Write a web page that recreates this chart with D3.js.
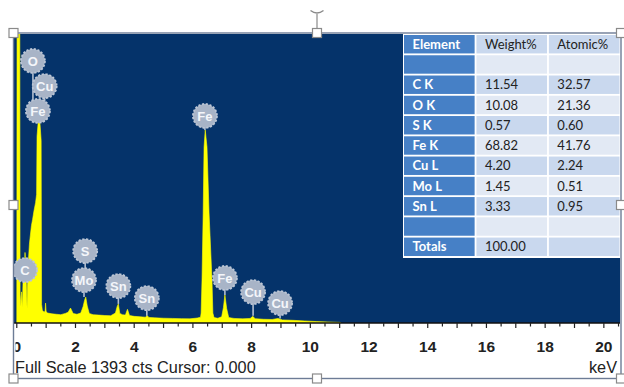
<!DOCTYPE html>
<html>
<head>
<meta charset="utf-8">
<script src="https://cdn.jsdelivr.net/npm/d3@7"></script>
<style>
  html, body { margin: 0; padding: 0; background: #fff; }
  svg { display: block; }
  .tick-label { font-family: 'Liberation Sans', Arial, sans-serif; font-size: 15.5px; font-weight: bold; fill: #222; }
  .foot { font-family: 'Liberation Sans', Arial, sans-serif; font-size: 16.3px; fill: #222; }
  .cell { font-family: Lato, 'Open Sans', sans-serif; font-size: 13px; fill: #222; }
  .cell-head { font-family: Lato, 'Open Sans', sans-serif; font-size: 13px; font-weight: bold; fill: #fff; }
  .marker text { font-family: 'Liberation Sans', Arial, sans-serif; font-size: 13px; font-weight: bold; fill: #f4f6fa; }
</style>
</head>
<body>
<div id="chart"></div>
<script>
// spectrum (keV, counts)
const energy = [0.00, 0.012, 0.02, 0.10, 0.112, 0.14, 0.16, 0.19, 0.215, 0.245, 0.28, 0.31, 0.335, 0.35, 0.37,
  0.40, 0.43, 0.46, 0.50, 0.54, 0.585, 0.64, 0.675, 0.69, 0.73, 0.79, 0.83, 0.845, 0.87, 0.93, 0.965, 0.98, 1.00,
  1.05, 1.20, 1.35, 1.50, 1.65, 1.75, 1.83, 1.92, 2.05, 2.18, 2.26, 2.31, 2.35, 2.40, 2.47, 2.60, 2.80, 3.00,
  3.20, 3.36, 3.42, 3.46, 3.51, 3.60, 3.70, 3.77, 3.84, 4.00, 4.20, 4.38, 4.44, 4.50, 4.70, 5.00, 5.30, 5.60,
  5.90, 6.15, 6.26, 6.28, 6.31, 6.35, 6.38, 6.42, 6.48, 6.55, 6.65, 6.68, 6.72, 6.85, 6.98, 7.04, 7.09, 7.15,
  7.22, 7.40, 7.70, 7.95, 8.04, 8.12, 8.40, 8.70, 8.90, 9.05, 9.40, 9.80, 10.20, 10.60, 11.00, 11.05];
const counts = [0, 1800, 1800, 1800, 140, 80, 150, 75, 210, 190, 340, 280, 130, 70, 200,
  310, 380, 420, 470, 500, 540, 580, 620, 900, 969, 962, 880, 90, 62, 52, 58, 96, 55,
  48, 44, 42, 40, 46, 52, 72, 46, 42, 48, 80, 110, 125, 82, 46, 40, 38, 36,
  35, 48, 80, 92, 46, 40, 38, 66, 36, 32, 30, 28, 36, 27, 25, 23, 22, 21,
  20, 24, 28, 48, 207, 530, 848, 930, 848, 530, 207, 48, 26, 23, 30, 75, 135, 70,
  26, 22, 20, 22, 32, 21, 18, 17, 22, 15, 13, 10, 7, 5, 3, 0];

const fullScale = 1393;
const tickLabels = [0, 2, 4, 6, 8, 10, 12, 14, 16, 18, 20];

// element markers (bubble centre and where its stem stops, both in counts)
const markerLabels = ['C', 'O', 'Cu', 'Fe', 'S', 'Mo', 'Sn', 'Sn', 'Fe', 'Fe', 'Cu', 'Cu'];
const markerKeV = [0.28, 0.55, 0.95, 0.72, 2.33, 2.29, 3.46, 4.43, 6.41, 7.09, 8.05, 8.97];
const markerCts = [255, 1263, 1142, 1022, 347, 207, 178, 120, 998, 217, 149, 96];
const stemCts = [255, 1022, 1022, 969, 207, 125, 92, 35, 930, 135, 35, 22];

// quantification table
const tableHeader = ['Element', 'Weight%', 'Atomic%'];
const elements = ['C K', 'O K', 'S K', 'Fe K', 'Cu L', 'Mo L', 'Sn L'];
const weightPct = ['11.54', '10.08', '0.57', '68.82', '4.20', '1.45', '3.33'];
const atomicPct = ['32.57', '21.36', '0.60', '41.76', '2.24', '0.51', '0.95'];
const totalsRow = ['Totals', '100.00', ''];

const width = 624, height = 387;
const plot = {left: 14, right: 620, top: 34, bottom: 323};

const svg = d3.select('#chart').append('svg')
  .attr('width', width)
  .attr('height', height);

svg.append('rect').attr('width', width).attr('height', height).attr('fill', '#fff');

const x = d3.scaleLinear().domain([-0.095, 20.55]).range([plot.left, plot.right]);
const y = d3.scaleLinear().domain([0, fullScale]).range([plot.bottom, plot.top]);

svg.append('clipPath').attr('id', 'plot-clip')
  .append('rect')
  .attr('x', plot.left).attr('y', plot.top)
  .attr('width', plot.right - plot.left).attr('height', plot.bottom - plot.top);

svg.append('clipPath').attr('id', 'frame-clip')
  .append('rect')
  .attr('x', plot.left + 1.5).attr('y', plot.top)
  .attr('width', plot.right - plot.left).attr('height', 360 - plot.top);

// background
svg.append('rect')
  .attr('x', plot.left).attr('y', plot.top)
  .attr('width', plot.right - plot.left).attr('height', plot.bottom - plot.top)
  .attr('fill', '#05336a');

drawSpectrum();
drawMarkers();
drawAxis();
drawTable();
drawFrame();

function drawSpectrum() {
  const spectrum = energy.map((e, i) => ({e, c: counts[i]}));
  const area = d3.area()
    .x(d => x(d.e))
    .y0(y(0))
    .y1(d => y(d.c));

  svg.append('g')
    .attr('clip-path', 'url(#plot-clip)')
    .append('path')
    .datum(spectrum)
    .attr('d', area)
    .attr('fill', '#ffff00')
    .attr('stroke', '#ffff00')
    .attr('stroke-width', 0.6);
}

function drawMarkers() {
  const r = 12;
  const markers = markerLabels.map((label, i) => ({
    label, kev: markerKeV[i], cts: markerCts[i], stem: stemCts[i]
  }));

  const g = svg.append('g').attr('class', 'marker').attr('clip-path', 'url(#plot-clip)');

  // stems first so bubbles sit on top
  g.selectAll('line')
    .data(markers)
    .enter().append('line')
      .attr('x1', d => x(d.kev)).attr('x2', d => x(d.kev))
      .attr('y1', d => y(d.cts))
      .attr('y2', d => y(d.stem))
      .attr('stroke', '#b3bfd0')
      .attr('stroke-width', 1.6);

  const bubble = g.selectAll('g.bubble')
    .data(markers)
    .enter().append('g')
      .attr('class', 'bubble')
      .attr('transform', d => `translate(${x(d.kev)},${y(d.cts)})`);

  bubble.append('circle')
    .attr('r', r)
    .attr('fill', '#a8b4c7')
    .attr('stroke', '#bcc6d5')
    .attr('stroke-width', 1.8)
    .attr('stroke-dasharray', '2.2,1.6');

  bubble.append('text')
    .attr('text-anchor', 'middle')
    .attr('dy', '0.36em')
    .text(d => d.label);
}

function drawAxis() {
  // axis line
  svg.append('line')
    .attr('x1', plot.left).attr('x2', plot.right)
    .attr('y1', plot.bottom).attr('y2', plot.bottom)
    .attr('stroke', '#111')
    .attr('stroke-width', 1.5);

  const tickVals = d3.range(0, 20.51, 0.5);
  const axisG = svg.append('g').attr('clip-path', 'url(#frame-clip)');

  axisG.selectAll('line.tick')
    .data(tickVals)
    .enter().append('line')
      .attr('class', 'tick')
      .attr('x1', d => x(d)).attr('x2', d => x(d))
      .attr('y1', plot.bottom)
      .attr('y2', d => plot.bottom + (d % 1 === 0 ? 5 : 3.5))
      .attr('stroke', '#222')
      .attr('stroke-width', 1.2);

  axisG.selectAll('text.tick-label')
    .data(tickLabels)
    .enter().append('text')
      .attr('class', 'tick-label')
      .attr('x', d => x(d))
      .attr('y', 351.5)
      .attr('text-anchor', 'middle')
      .text(d => d);

  svg.append('text')
    .attr('class', 'foot')
    .attr('x', 15)
    .attr('y', 372.5)
    .text('Full Scale ' + fullScale + ' cts Cursor: 0.000');

  svg.append('text')
    .attr('class', 'foot')
    .attr('x', 617)
    .attr('y', 373)
    .attr('text-anchor', 'end')
    .text('keV');
}

function drawTable() {
  const rows = [tableHeader, ['', '', '']]
    .concat(elements.map((el, i) => [el, weightPct[i], atomicPct[i]]))
    .concat([['', '', ''], totalsRow]);

  const rowScale = d3.scaleBand()
    .domain(d3.range(rows.length))
    .range([35, 256])
    .paddingInner(0.09);

  const colScale = d3.scaleBand()
    .domain(d3.range(3))
    .range([404, 619.5])
    .paddingInner(0.025);

  const bandColours = ['#c9d8ee', '#e2e9f4'];

  svg.append('rect')
    .attr('x', 403).attr('y', 34)
    .attr('width', 218).attr('height', 224)
    .attr('fill', '#fff');

  const rowG = svg.append('g').attr('class', 'table')
    .selectAll('g')
    .data(rows)
    .enter().append('g')
      .attr('transform', (d, i) => `translate(0,${rowScale(i)})`);

  rowG.selectAll('rect')
    .data((d, i) => d.map((v, j) => ({v, row: i, col: j})))
    .enter().append('rect')
      .attr('x', d => colScale(d.col))
      .attr('width', colScale.bandwidth())
      .attr('height', rowScale.bandwidth())
      .attr('fill', d => d.col === 0 ? '#4680c6' : bandColours[d.row % 2]);

  rowG.selectAll('text')
    .data((d, i) => d.map((v, j) => ({v, row: i, col: j})))
    .enter().append('text')
      .attr('class', d => d.col === 0 ? 'cell-head' : 'cell')
      .attr('x', d => colScale(d.col) + 8.5)
      .attr('y', rowScale.bandwidth() / 2)
      .attr('dy', '0.36em')
      .text(d => d.v);
}

function drawFrame() {
  svg.append('rect')
    .attr('x', 13.5).attr('y', 33)
    .attr('width', 607.5).attr('height', 345.5)
    .attr('fill', 'none')
    .attr('stroke', '#6d7c96')
    .attr('stroke-width', 1.4);

  // selection handles
  const hx = [13.5, 317, 621];
  const hy = [33, 205, 378.5];
  const handles = [];
  hx.forEach((a, i) => hy.forEach((b, j) => { if (!(i === 1 && j === 1)) handles.push([a, b]); }));

  svg.append('line')
    .attr('x1', 317).attr('x2', 317).attr('y1', 29).attr('y2', 14)
    .attr('stroke', '#8a8a8a').attr('stroke-width', 1.2);
  svg.append('path')
    .attr('d', 'M310.5,10.5 Q317,15.5 323.5,10.5')
    .attr('fill', 'none').attr('stroke', '#8a8a8a').attr('stroke-width', 1.4);

  svg.append('g').selectAll('rect')
    .data(handles)
    .enter().append('rect')
      .attr('x', d => d[0] - 4.5).attr('y', d => d[1] - 4.5)
      .attr('width', 9).attr('height', 9)
      .attr('fill', '#fff')
      .attr('stroke', '#8a8a8a')
      .attr('stroke-width', 1.2);
}
</script>
</body>
</html>
